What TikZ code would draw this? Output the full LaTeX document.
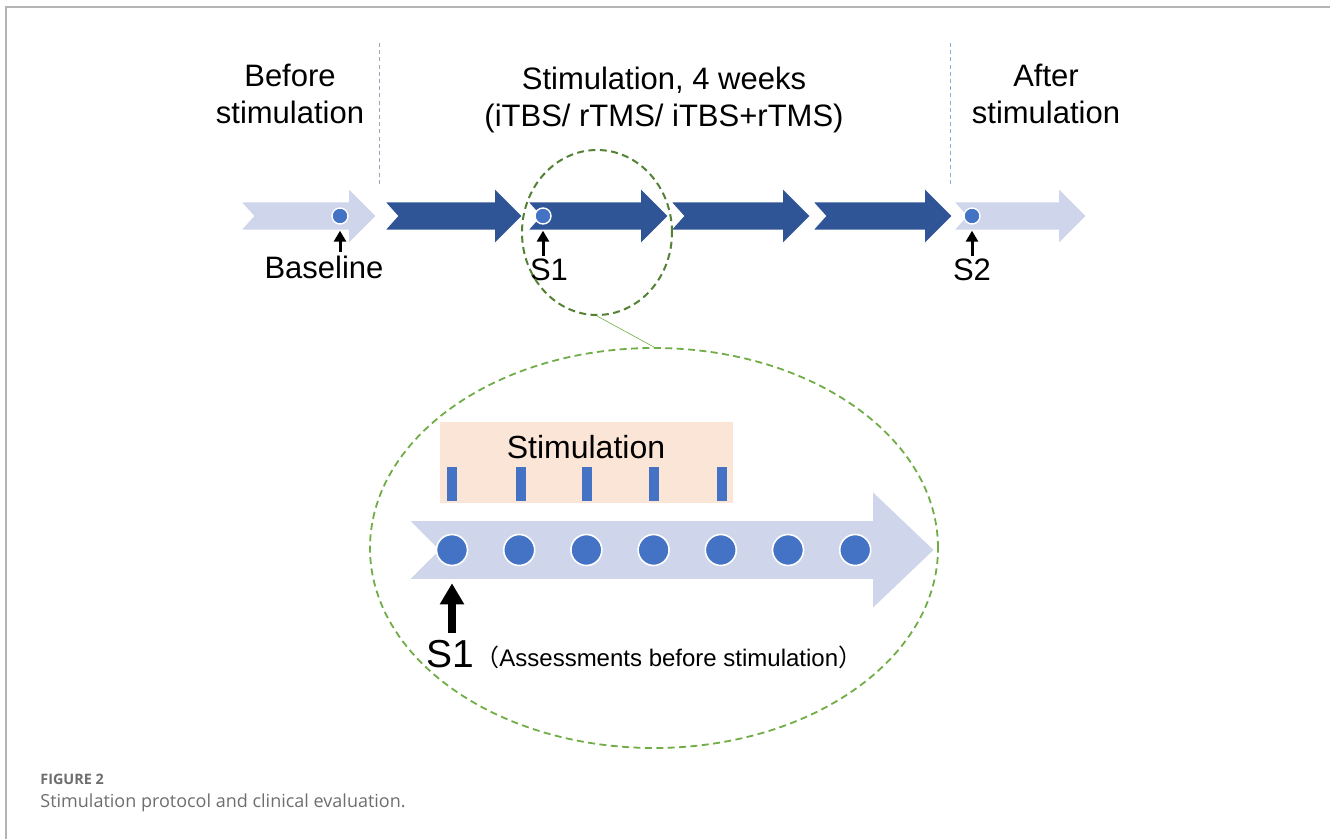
\documentclass[tikz,border=0pt]{standalone}
\usepackage{fontspec}
\setmainfont{Liberation Sans}
\newfontfamily\cjkfont{Noto Sans CJK SC}
\newfontfamily\capfont{Open Sans}
\usetikzlibrary{shapes.geometric,arrows.meta}

\definecolor{arrowdark}{HTML}{2F5597}
\definecolor{arrowlight}{HTML}{CFD5EA}
\definecolor{dotblue}{HTML}{4472C4}
\definecolor{zoomgreen}{HTML}{548235}
\definecolor{biggreen}{HTML}{70AD47}
\definecolor{stimpeach}{HTML}{FBE5D6}
\definecolor{sepblue}{HTML}{8FAADC}
\definecolor{sepgray}{HTML}{9AA3B8}
\definecolor{capgray}{HTML}{6E6E6E}
\definecolor{framegray}{HTML}{B4B4B4}

\tikzset{
  darkchev/.style={fill=arrowdark, draw=white, line width=0.9pt},
  lightchev/.style={fill=arrowlight, draw=white, line width=0.9pt},
  timedot/.style={circle, fill=dotblue, draw=white, line width=0.7pt, minimum size=8pt},
  zoomdot/.style={circle, fill=dotblue, draw=white, line width=0.8pt, minimum size=15.5pt},
  toplabel/.style={font=\fontsize{15.5}{18.5}\selectfont, align=center},
  sepline/.style={line width=0.4pt, dash pattern=on 2pt off 1.6pt},
  smallup/.style={-{Triangle[length=5.5pt,width=6pt]}, line width=1.5pt, shorten <=1.5pt, shorten >=3pt},
  bigup/.style={-{Triangle[length=10.5pt,width=11.5pt]}, line width=4pt, shorten <=3.5pt, shorten >=8.5pt},
  stimbar/.style={fill=dotblue, minimum width=5pt, minimum height=17pt}
}

\begin{document}
\begin{tikzpicture}[x=0.5pt,y=0.5pt]
	\tikzstyle{every node}+=[inner sep=0pt]
	\useasboundingbox (0,0) rectangle (1330,-839);
	\draw [framegray, line width=1pt] (1330,-7) -- (6,-7) -- (6,-839);
	% phase separators
	\draw [sepline, sepgray] (379,-43) -- (379,-186);
	\draw [sepline, sepblue] (950,-43) -- (950,-186);
	\node [toplabel] (before) at (290,-94) {Before\\stimulation};
	\node [toplabel] (during) at (664,-100) {Stimulation, 4 weeks\\(iTBS/ rTMS/ iTBS+rTMS)};
	\node [toplabel] (after) at (1046,-94) {After\\stimulation};
	% timeline
	\filldraw [lightchev] (240,-201.5) -- (348,-201.5) -- (348,-187) -- (377,-216) -- (348,-245) -- (348,-230.5) -- (240,-230.5) -- (253,-216) -- cycle;
	\filldraw [darkchev] (384,-201.5) -- (494,-201.5) -- (494,-187) -- (523,-216) -- (494,-245) -- (494,-230.5) -- (384,-230.5) -- (397,-216) -- cycle;
	\filldraw [darkchev] (527,-201.5) -- (640,-201.5) -- (640,-187) -- (669,-216) -- (640,-245) -- (640,-230.5) -- (527,-230.5) -- (540,-216) -- cycle;
	\filldraw [darkchev] (670,-201.5) -- (782,-201.5) -- (782,-187) -- (811,-216) -- (782,-245) -- (782,-230.5) -- (670,-230.5) -- (683,-216) -- cycle;
	\filldraw [darkchev] (812,-201.5) -- (924,-201.5) -- (924,-187) -- (953,-216) -- (924,-245) -- (924,-230.5) -- (812,-230.5) -- (825,-216) -- cycle;
	\filldraw [lightchev] (953,-201.5) -- (1058,-201.5) -- (1058,-187) -- (1087,-216) -- (1058,-245) -- (1058,-230.5) -- (953,-230.5) -- (966,-216) -- cycle;
	\node [timedot] (base) at (340,-216) {};
	\node [timedot] (sone) at (543,-216) {};
	\node [timedot] (stwo) at (972,-216) {};
	\node [toplabel] (baselbl) at (324,-267) {Baseline};
	\node [toplabel] (sonelbl) at (549,-270) {S1};
	\node [toplabel] (stwolbl) at (972,-270) {S2};
	\draw [smallup] (baselbl.north -| base) -- (base.south);
	\draw [smallup] (sonelbl.north -| sone) -- (sone.south);
	\draw [smallup] (stwolbl.north -| stwo) -- (stwo.south);
	% zoom on S1
	\node [ellipse, draw=zoomgreen, line width=1pt, dash pattern=on 3.5pt off 2.2pt, minimum width=75pt, minimum height=82.5pt] (zoomsmall) at (597,-232.5) {};
	\node [ellipse, draw=biggreen, line width=0.9pt, dash pattern=on 3.5pt off 2.2pt, minimum width=284pt, minimum height=200pt] (zoombig) at (654,-548) {};
	\draw [biggreen, line width=0.3pt] (zoomsmall.south) -- (zoombig.north);
	\node [fill=stimpeach, minimum width=146.5pt, minimum height=40.5pt] (stimbox) at (586.5,-462.5) {};
	\node [font=\fontsize{16}{19}\selectfont] (stimtxt) at (586,-447) {Stimulation};
	\node [stimbar] (bar1) at (452,-484) {};
	\node [stimbar] (bar2) at (521,-484) {};
	\node [stimbar] (bar3) at (587,-484) {};
	\node [stimbar] (bar4) at (654,-484) {};
	\node [stimbar] (bar5) at (722,-484) {};
	\filldraw [lightchev] (408,-520) -- (872,-520) -- (872,-490) -- (935,-550) -- (872,-610) -- (872,-580) -- (408,-580) -- (438,-550) -- cycle;
	\node [zoomdot] (d1) at (452,-550) {};
	\node [zoomdot] (d2) at (519.2,-550) {};
	\node [zoomdot] (d3) at (586.4,-550) {};
	\node [zoomdot] (d4) at (653.6,-550) {};
	\node [zoomdot] (d5) at (720.8,-550) {};
	\node [zoomdot] (d6) at (788,-550) {};
	\node [zoomdot] (d7) at (855.2,-550) {};
	\node [anchor=base, font=\fontsize{19.5}{23}\selectfont] (sonebig) at (450,-668) {S1};
	\node [anchor=base west, font=\fontsize{12}{14}\selectfont] (assess) at (475,-667) {{\cjkfont （}Assessments before stimulation{\cjkfont ）}};
	\draw [bigup] (sonebig.north -| d1) -- (d1.south);
	% caption
	\node [anchor=base west, capgray, font=\capfont\bfseries\fontsize{7.2}{8}\selectfont] (figno) at (40,-785) {FIGURE 2};
	\node [anchor=base west, capgray, font=\capfont\fontsize{9}{11}\selectfont] (figcap) at (40,-808) {Stimulation protocol and clinical evaluation.};
\end{tikzpicture}
\end{document}
